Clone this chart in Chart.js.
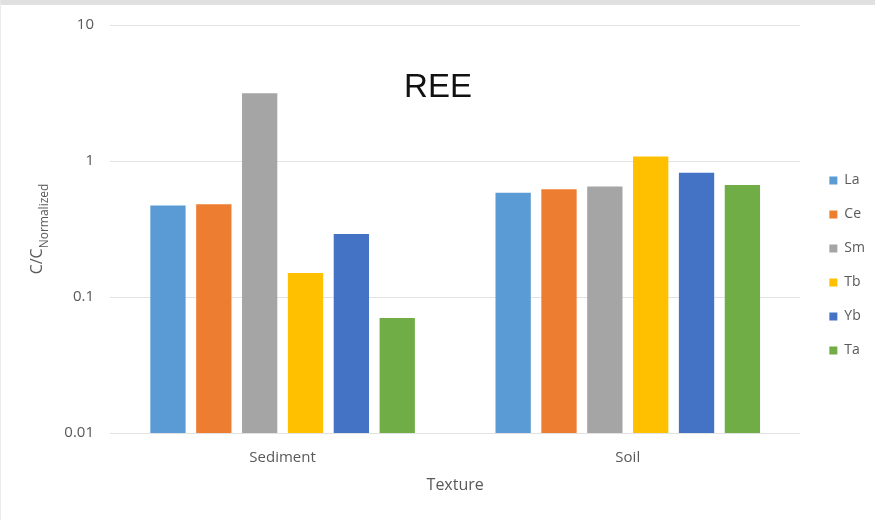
<!DOCTYPE html>
<html>
<head>
<meta charset="utf-8">
<title>REE</title>
<script src="https://cdn.jsdelivr.net/npm/chart.js@4/dist/chart.umd.min.js"></script>
<style>
  html, body { margin: 0; padding: 0; background: #fff; }
  .frame {
    width: 875px; height: 520px;
    box-sizing: border-box;
    border-top: 5px solid #e0e0e0;
    border-left: 1px solid #ebebeb;
    background: #fff;
  }
  canvas { display: block; }
</style>
</head>
<body>
<div class="frame">
  <canvas id="chartREE" width="874" height="515"></canvas>
</div>
<script>
// ---- data ----
const textures = ['Sediment', 'Soil'];
const elements = ['La', 'Ce', 'Sm', 'Tb', 'Yb', 'Ta'];
const sedimentValues = [0.47, 0.48, 3.15, 0.15, 0.29, 0.07];
const soilValues = [0.585, 0.62, 0.65, 1.08, 0.82, 0.665];
const elementColours = ['#5B9BD5', '#ED7D31', '#A5A5A5', '#FFC000', '#4472C4', '#70AD47'];
const yTicks = [0.01, 0.1, 1, 10];

const TEXT_GREY = '#595959';
Chart.defaults.font.family = "'Open Sans', sans-serif";
Chart.defaults.color = TEXT_GREY;

// title sits inside the plot area, so draw it by hand
const chartTitle = {
  id: 'chartTitle',
  afterDraw(chart) {
    const ctx = chart.ctx;
    ctx.save();
    ctx.font = "33px 'Liberation Sans', Arial, sans-serif";
    ctx.fillStyle = '#111';
    ctx.textAlign = 'center';
    ctx.textBaseline = 'alphabetic';
    ctx.fillText('REE', chart.width / 2, 92);
    ctx.restore();
  }
};

// y axis title with subscript: C/C_Normalized
const yTitle = {
  id: 'yTitle',
  afterDraw(chart) {
    const ctx = chart.ctx;
    const cy = (chart.chartArea.top + chart.chartArea.bottom) / 2;
    const mainFont = "16px 'Open Sans', sans-serif";
    const subFont = "12px 'Open Sans', sans-serif";
    ctx.save();
    ctx.font = mainFont;
    const w1 = ctx.measureText('C/C').width;
    ctx.font = subFont;
    const w2 = ctx.measureText('Normalized').width;
    ctx.translate(41, cy);
    ctx.rotate(-Math.PI / 2);
    ctx.fillStyle = TEXT_GREY;
    ctx.textAlign = 'left';
    ctx.textBaseline = 'alphabetic';
    const x0 = -(w1 + w2) / 2;
    ctx.font = mainFont;
    ctx.fillText('C/C', x0, 0);
    ctx.font = subFont;
    ctx.fillText('Normalized', x0 + w1, 6);
    ctx.restore();
  }
};

// keep a small gap between plot and legend
const legendOffset = {
  id: 'legendOffset',
  afterLayout(chart) {
    const lg = chart.legend;
    if (!lg) return;
    lg.left += 9; lg.right += 9;
    lg.top -= 7; lg.bottom -= 7;
  }
};

const ctx = document.getElementById('chartREE').getContext('2d');
new Chart(ctx, {
  type: 'bar',
  data: {
    labels: textures,
    datasets: elements.map((el, i) => ({
      label: el,
      data: [sedimentValues[i], soilValues[i]],
      backgroundColor: elementColours[i],
      borderWidth: 0,
      barPercentage: 0.77,
      categoryPercentage: 0.797
    }))
  },
  options: {
    responsive: false,
    animation: false,
    layout: { padding: { top: 20, right: 9, bottom: 0, left: 0 } },
    plugins: {
      legend: {
        position: 'right',
        labels: {
          boxWidth: 8,
          boxHeight: 8,
          padding: 20,
          color: TEXT_GREY,
          font: { size: 14 }
        }
      },
      tooltip: { enabled: false }
    },
    scales: {
      x: {
        grid: { display: false },
        border: { display: false },
        ticks: { padding: 8, color: TEXT_GREY, font: { size: 15 } },
        title: {
          display: true,
          text: 'Texture',
          color: TEXT_GREY,
          font: { size: 16 },
          padding: { top: 0, bottom: 25 }
        },
        afterFit: s => { s.height = 87; }
      },
      y: {
        type: 'logarithmic',
        min: 0.01,
        max: 10,
        border: { display: false },
        grid: { color: '#e2e2e2', lineWidth: 1, drawTicks: false },
        ticks: {
          padding: 16,
          color: TEXT_GREY,
          font: { size: 15 },
          callback: v => String(v)
        },
        afterBuildTicks: s => { s.ticks = yTicks.map(v => ({ value: v })); },
        afterFit: s => { s.width = 109; s.paddingTop = 0; s.paddingBottom = 0; }
      }
    }
  },
  plugins: [chartTitle, yTitle, legendOffset]
});
</script>
</body>
</html>
